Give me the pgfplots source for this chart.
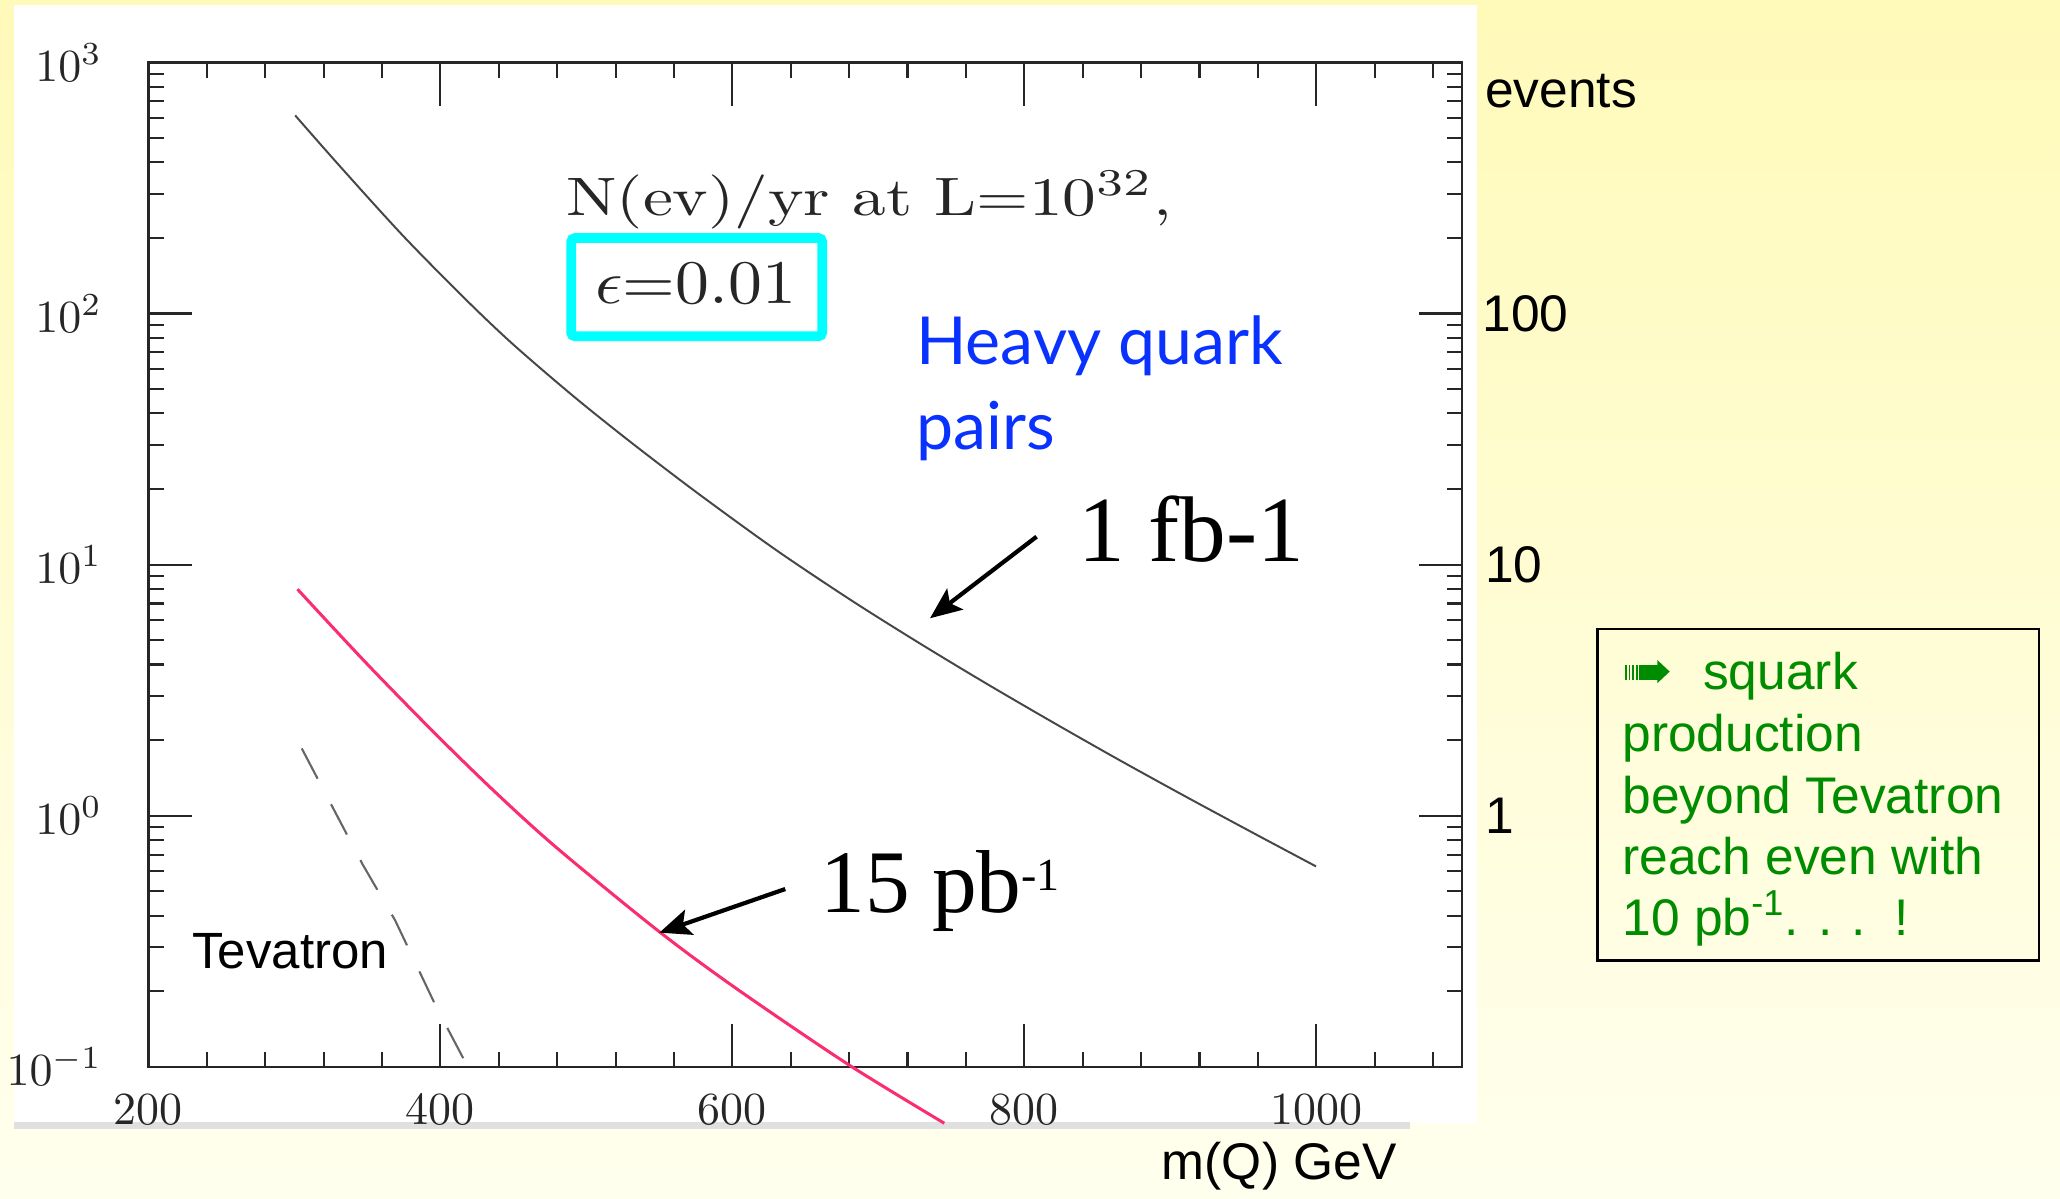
\documentclass[border=0pt]{standalone}
\usepackage{fontspec}
\usepackage{pgfplots}
\pgfplotsset{compat=1.18}
\usepackage{pgfplotstable}
\usetikzlibrary{arrows.meta}
\newfontfamily\arialf{Liberation Sans}
\newfontfamily\timesf{Liberation Serif}
\newfontfamily\handf{Lato}
\definecolor{pinkc}{RGB}{250,45,110}
\definecolor{cyanc}{RGB}{0,255,255}
\definecolor{bluec}{RGB}{10,50,255}
\definecolor{greenc}{RGB}{0,140,0}
\definecolor{bgtop}{RGB}{255,250,185}
\definecolor{bgbot}{RGB}{255,255,238}

\pgfplotstableread{
x y
300.5 615.2
331.4 384.6
374.8 202.8
418.2 112.5
450.2 75.0
491.4 46.7
530.2 30.8
576.0 19.3
629.7 11.46
681.1 7.23
726.8 4.92
772.5 3.40
818.2 2.38
864.0 1.68
909.6 1.20
955.3 0.863
999.9 0.628
}\blackcurve

\pgfplotstableread{
x y
302.1 7.98
349.6 4.03
397.2 2.10
438.8 1.222
480.5 0.738
548.9 0.349
602.4 0.2056
679.7 0.1019
745.2 0.0596
}\pinkcurve

\pgfplotstableread{
x y
305.0 1.854
346.7 0.64
369.0 0.383
397.2 0.173
418.1 0.1016
}\tevcurve

\newcommand{\tl}[1]{\scalebox{1.75}{#1}}

\begin{document}
\begin{tikzpicture}
\useasboundingbox (0,0) rectangle (784pt,456pt);
\begin{scope}[x=0.5pt,y=-0.5pt,yshift=456pt]
  \shade[top color=bgtop, bottom color=bgbot] (0,0) rectangle (1568,912);
  \fill[white] (11,4) rectangle (1124,855);
  \fill[black!12] (11,854) rectangle (1073,859);
\end{scope}

\begin{axis}[
  at={(56.5pt,50pt)}, anchor=south west,
  scale only axis, width=500pt, height=382.25pt,
  xmin=200, xmax=1100, ymin=0.1, ymax=1000, ymode=log,
  xtick={200,400,600,800,1000},
  xticklabels={\tl{200},\tl{400},\tl{600},\tl{800},\tl{1000}},
  minor xtick={240,280,...,1080},
  ytick={0.1,1,10,100,1000},
  yticklabels={\tl{$10^{-1}$},\tl{$10^{0}$},\tl{$10^{1}$},\tl{$10^{2}$},\tl{$10^{3}$}},
  minor ytick={0.2,0.3,0.4,0.5,0.6,0.7,0.8,0.9,2,3,4,5,6,7,8,9,20,30,40,50,60,70,80,90,200,300,400,500,600,700,800,900},
  major tick length=16.5pt, minor tick length=5.8pt,
  every tick/.append style={black!85, line width=0.8pt},
  axis line style={black!85, line width=0.9pt},
  tick label style={font=\fontsize{10}{12}\selectfont, text=black!85, inner sep=0pt},
  xticklabel style={yshift=-10pt},
  yticklabel style={xshift=-17.5pt},
  scaled x ticks=false,
  clip=false,
]
\addplot[color=black!72, line width=0.75pt, smooth] table[x=x,y=y]{\blackcurve};
\addplot[color=pinkc, line width=1.15pt, smooth] table[x=x,y=y]{\pinkcurve};
\addplot[color=black!60, line width=0.8pt, dash pattern=on 13pt off 11pt] table[x=x,y=y]{\tevcurve};
\end{axis}

\begin{scope}[x=0.5pt,y=-0.5pt,yshift=456pt]
  % right-hand labels
  \node[anchor=base west, inner sep=0pt] at (1130,82) {\arialf\fontsize{19.6}{23}\selectfont events};
  \node[anchor=west, inner sep=0pt] at (1128,238.6) {\arialf\fontsize{19.6}{23}\selectfont 100};
  \node[anchor=west, inner sep=0pt] at (1130,429.8) {\arialf\fontsize{19.6}{23}\selectfont 10};
  \node[anchor=west, inner sep=0pt] at (1130,620.9) {\arialf\fontsize{19.6}{23}\selectfont 1};
  \node[anchor=base west, inner sep=0pt] at (884,898) {\arialf\fontsize{19.6}{23}\selectfont m(Q) GeV};
  \node[anchor=base west, inner sep=0pt] at (146,737) {\arialf\fontsize{19.4}{23}\selectfont Tevatron};
  % figure text
  \node[anchor=base west, inner sep=0pt, text=black!85] at (430.8,163.7)
     {\scalebox{2.56}[2.06]{\fontsize{10}{12}\selectfont N(ev)/yr at L=10$^{32}$,}};
  \node[anchor=base west, inner sep=0pt, text=black!85] at (452.6,230.9)
     {\scalebox{2.58}[2.36]{\fontsize{10}{12}\selectfont $\epsilon$=0.01}};
  \draw[cyanc, line width=3.7pt, rounded corners=1.5pt] (434.75,181.15) rectangle (625.85,256);
  % Heavy quark pairs
  \node[anchor=base west, inner sep=0pt, text=bluec] at (697,277.8) {\handf\fontsize{25.2}{30}\selectfont Heavy quark};
  \node[anchor=base west, inner sep=0pt, text=bluec] at (697,342.5) {\handf\fontsize{25.2}{30}\selectfont pairs};
  % luminosity labels and arrows
  \node[anchor=base west, inner sep=0pt] at (820.5,427.5) {\timesf\fontsize{35.5}{40}\selectfont 1 fb-1};
  \node[anchor=base west, inner sep=0pt] at (624,694.7) {\timesf\fontsize{34}{40}\selectfont 15 pb\raisebox{8.5pt}{\fontsize{17.5}{18}\selectfont -1}};
  \draw[line width=1.6pt, -{Stealth[length=12pt,width=10pt,inset=2.5pt]}] (789,408.5) -- (707.9,470.6);
  \draw[line width=1.6pt, -{Stealth[length=12pt,width=10pt,inset=2.5pt]}] (597.7,676.7) -- (501.9,709.9);
  % green box
  \draw[black, line width=0.9pt] (1216,479) rectangle (1552,731);
  \fill[greenc] (1237.2,506) rectangle (1238.4,517.6);
  \fill[greenc] (1239.8,506) rectangle (1241.0,517.6);
  \fill[greenc] (1242.4,506) rectangle (1243.6,517.6);
  \fill[greenc] (1245.0,506) rectangle (1246.4,517.6);
  \fill[greenc] (1247.8,506) rectangle (1262.7,517.6);
  \fill[greenc] (1261.5,502.4) -- (1270.9,511.2) -- (1261.5,520) -- cycle;
  \node[anchor=base west, inner sep=0pt, text=greenc] at (1296,525) {\arialf\fontsize{19.6}{23}\selectfont squark};
  \node[anchor=base west, inner sep=0pt, text=greenc] at (1234.6,572) {\arialf\fontsize{19.6}{23}\selectfont production};
  \node[anchor=base west, inner sep=0pt, text=greenc] at (1234.6,619) {\arialf\fontsize{19.6}{23}\selectfont beyond Tevatron};
  \node[anchor=base west, inner sep=0pt, text=greenc] at (1234.6,666) {\arialf\fontsize{19.6}{23}\selectfont reach even with};
  \node[anchor=base west, inner sep=0pt, text=greenc] at (1234.6,711.7) {\arialf\fontsize{19.6}{23}\selectfont 10 pb\textsuperscript{-1}. . .\ \ !};
\end{scope}
\end{tikzpicture}
\end{document}
